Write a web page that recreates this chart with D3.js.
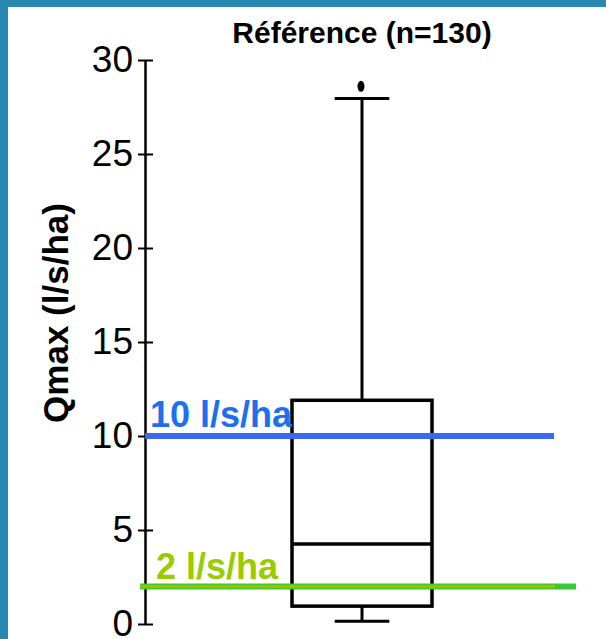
<!DOCTYPE html>
<html>
<head>
<meta charset="utf-8">
<script src="https://cdn.jsdelivr.net/npm/d3@7"></script>
<style>
  html, body { margin: 0; padding: 0; background: #fff; }
  svg { display: block; }
</style>
</head>
<body>
<div id="chart"></div>
<script>
// data
const groups = ['Référence (n=130)'];
const whiskerLow = [0.15];
const q1 = [0.95];
const median = [4.25];
const q3 = [11.9];
const whiskerHigh = [27.95];
const outliers = [[28.6]];
const yTicks = [0, 5, 10, 15, 20, 25, 30];
const thresholds = [10, 2];
const thresholdLabels = ['10 l/s/ha', '2 l/s/ha'];

const w = 606, h = 639;

const svg = d3.select('#chart').append('svg')
  .attr('width', w)
  .attr('height', h);

// frame (blue band left and top)
svg.append('rect').attr('x', 0).attr('y', 0).attr('width', w).attr('height', 7).attr('fill', '#2a88b0');
svg.append('rect').attr('x', 0).attr('y', 0).attr('width', 8).attr('height', h).attr('fill', '#2a88b0');

const y = d3.scaleLinear().domain([0, 30]).range([624, 60]);
const x = d3.scaleBand().domain(groups).range([292, 432]).padding(0);
const axisX = 145;

/* Axis */
const yAxis = d3.axisLeft(y).tickValues(yTicks).tickSizeInner(7).tickSizeOuter(0).tickPadding(5);
const gAxis = svg.append('g').attr('transform', `translate(${axisX},0)`).call(yAxis);
gAxis.select('.domain').attr('stroke', '#000').attr('stroke-width', 2.5);
gAxis.selectAll('.tick line').attr('x1', 8).attr('stroke', '#000').attr('stroke-width', 2);
gAxis.selectAll('.tick text')
  .attr('fill', '#000')
  .style('font-family', '"Liberation Sans Narrow", "Arial Narrow", "Liberation Sans", Arial, sans-serif')
  .style('font-size', '37px');

/* Axis title */
svg.append('text')
  .attr('transform', 'translate(68,313) rotate(-90)')
  .attr('text-anchor', 'middle')
  .style('font-family', '"Liberation Sans", Arial, sans-serif')
  .style('font-weight', 'bold')
  .style('font-size', '35px')
  .text('Qmax (l/s/ha)');

/* Title */
svg.append('text')
  .attr('x', x(groups[0]) + x.bandwidth() / 2)
  .attr('y', 43)
  .attr('text-anchor', 'middle')
  .style('font-family', '"Liberation Sans", Arial, sans-serif')
  .style('font-weight', 'bold')
  .style('font-size', '30px')
  .text(groups[0]);

/* Box */
const box = svg.append('g');
groups.forEach((g, i) => {
  const cx = x(g) + x.bandwidth() / 2;
  const capW = x.bandwidth() * 0.39;
  box.append('line').attr('x1', cx).attr('x2', cx).attr('y1', y(whiskerLow[i])).attr('y2', y(q1[i]))
    .attr('stroke', '#000').attr('stroke-width', 3);
  box.append('line').attr('x1', cx).attr('x2', cx).attr('y1', y(q3[i])).attr('y2', y(whiskerHigh[i]))
    .attr('stroke', '#000').attr('stroke-width', 3);
  [whiskerLow[i], whiskerHigh[i]].forEach(v => {
    box.append('line').attr('x1', cx - capW / 2).attr('x2', cx + capW / 2).attr('y1', y(v)).attr('y2', y(v))
      .attr('stroke', '#000').attr('stroke-width', 3);
  });
  box.append('rect')
    .attr('x', x(g)).attr('y', y(q3[i]))
    .attr('width', x.bandwidth()).attr('height', y(q1[i]) - y(q3[i]))
    .attr('fill', 'none').attr('stroke', '#000').attr('stroke-width', 3.5);
  box.append('line').attr('x1', x(g)).attr('x2', x(g) + x.bandwidth()).attr('y1', y(median[i])).attr('y2', y(median[i]))
    .attr('stroke', '#000').attr('stroke-width', 3.5);
  outliers[i].forEach(v => {
    box.append('ellipse').attr('cx', cx - 1).attr('cy', y(v)).attr('rx', 3.5).attr('ry', 5.5).attr('fill', '#000');
  });
});

/* Threshold lines */
// 10 l/s/ha
svg.append('line').attr('x1', axisX).attr('x2', 554).attr('y1', y(thresholds[0])).attr('y2', y(thresholds[0]))
  .attr('stroke', '#3a68f2').attr('stroke-width', 6);
svg.append('text')
  .attr('x', 150).attr('y', y(thresholds[0]) - 9)
  .attr('fill', '#1d6ff2')
  .style('font-family', '"Liberation Sans", Arial, sans-serif')
  .style('font-weight', 'bold')
  .style('font-size', '36px')
  .text(thresholdLabels[0]);

// 2 l/s/ha
svg.append('line').attr('x1', 140).attr('x2', 576).attr('y1', y(thresholds[1])).attr('y2', y(thresholds[1]))
  .attr('stroke', '#36c936').attr('stroke-width', 6);
svg.append('line').attr('x1', 140).attr('x2', 555).attr('y1', y(thresholds[1])).attr('y2', y(thresholds[1]))
  .attr('stroke', '#94c400').attr('stroke-width', 3.5);
svg.append('text')
  .attr('x', 156).attr('y', y(thresholds[1]) - 7)
  .attr('fill', '#99cc00')
  .style('font-family', '"Liberation Sans", Arial, sans-serif')
  .style('font-weight', 'bold')
  .style('font-size', '36px')
  .text(thresholdLabels[1]);
</script>
</body>
</html>
